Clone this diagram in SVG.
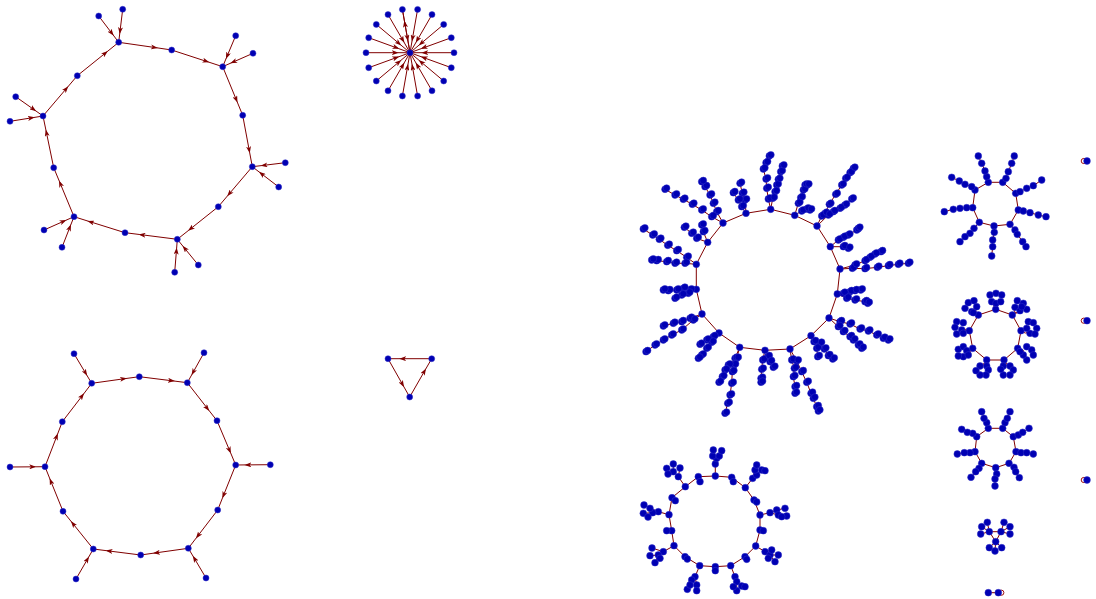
<svg xmlns="http://www.w3.org/2000/svg" xmlns:xlink="http://www.w3.org/1999/xlink" width="1096" height="599" viewBox="0 0 1096 599">
<style>
.e{fill:none;stroke:#800000;stroke-width:1}
.d{marker-mid:url(#ah)}
.lp{fill:none;stroke:#a01010;stroke-width:1}
#nodes circle{fill:#0000b3;stroke:#3030c8;stroke-width:0.5}
</style>
<defs>
<marker id="ah" viewBox="0 0 7 5" refX="6" refY="2.5" markerWidth="7" markerHeight="5" markerUnits="userSpaceOnUse" orient="auto"><path d="M0,0 L7,2.5 L0,5 L1.8,2.5 Z" fill="#800000"/></marker>
</defs>
<rect width="1096" height="599" fill="#ffffff"/>
<g id="connectors">
<polyline class="e d" points="118.7,42.3 156.9,47.8 171.7,50"/>
<polyline class="e d" points="171.7,50 208.4,62 222.7,66.7"/>
<polyline class="e d" points="222.7,66.7 237.1,101.7 242.7,115.3"/>
<polyline class="e d" points="242.7,115.3 249.6,152.3 252.3,166.7"/>
<polyline class="e d" points="252.3,166.7 227.8,195.5 218.3,206.7"/>
<polyline class="e d" points="218.3,206.7 188.8,230.2 177.3,239.3"/>
<polyline class="e d" points="177.3,239.3 139.6,234.5 125,232.7"/>
<polyline class="e d" points="125,232.7 88.3,221.2 74,216.7"/>
<polyline class="e d" points="74,216.7 59.4,181.4 53.7,167.7"/>
<polyline class="e d" points="53.7,167.7 46,130.5 43,116"/>
<polyline class="e d" points="43,116 67.7,87 77.3,75.7"/>
<polyline class="e d" points="77.3,75.7 107.1,51.7 118.7,42.3"/>
<polyline class="e d" points="98.7,16 113.1,34.9 118.7,42.3"/>
<polyline class="e d" points="122.7,9.3 119.8,33.1 118.7,42.3"/>
<polyline class="e d" points="235.7,35.7 226.3,58 222.7,66.7"/>
<polyline class="e d" points="253,53.3 231.2,62.9 222.7,66.7"/>
<polyline class="e d" points="285.3,162.7 261.5,165.6 252.3,166.7"/>
<polyline class="e d" points="278.7,187 259.7,172.4 252.3,166.7"/>
<polyline class="e d" points="198.3,265 183.2,246.5 177.3,239.3"/>
<polyline class="e d" points="174.7,272.3 176.6,248.5 177.3,239.3"/>
<polyline class="e d" points="44,230 65.6,220.4 74,216.7"/>
<polyline class="e d" points="62,247.3 70.6,225.3 74,216.7"/>
<polyline class="e d" points="15.7,96.7 35.4,110.6 43,116"/>
<polyline class="e d" points="10,121.3 33.8,117.5 43,116"/>
<polyline class="e d" points="417.6,9.4 412.1,40.6 410,52.7"/>
<polyline class="e d" points="432,14.6 416.2,42 410,52.7"/>
<polyline class="e d" points="443.7,24.4 419.4,44.8 410,52.7"/>
<polyline class="e d" points="451.3,37.7 421.6,48.5 410,52.7"/>
<polyline class="e d" points="454,52.7 422.3,52.7 410,52.7"/>
<polyline class="e d" points="451.3,67.7 421.6,56.9 410,52.7"/>
<polyline class="e d" points="443.7,81 419.4,60.6 410,52.7"/>
<polyline class="e d" points="432,90.8 416.2,63.4 410,52.7"/>
<polyline class="e d" points="417.6,96 412.1,64.8 410,52.7"/>
<polyline class="e d" points="402.4,96 407.9,64.8 410,52.7"/>
<polyline class="e d" points="388,90.8 403.9,63.4 410,52.7"/>
<polyline class="e d" points="376.3,81 400.6,60.6 410,52.7"/>
<polyline class="e d" points="368.7,67.7 398.4,56.9 410,52.7"/>
<polyline class="e d" points="366,52.7 397.7,52.7 410,52.7"/>
<polyline class="e d" points="368.7,37.7 398.4,48.5 410,52.7"/>
<polyline class="e d" points="376.3,24.4 400.6,44.8 410,52.7"/>
<polyline class="e d" points="388,14.6 403.9,42 410,52.7"/>
<polyline class="e d" points="402.4,9.4 407.9,40.6 410,52.7"/>
<polyline class="e d" points="410,52.7 404.5,21.5 402.4,9.4"/>
<polyline class="e d" points="91.7,383.3 126,378.5 139.3,376.7"/>
<polyline class="e d" points="139.3,376.7 173.9,381 187.3,382.7"/>
<polyline class="e d" points="187.3,382.7 208.7,410.1 217,420.7"/>
<polyline class="e d" points="217,420.7 230.5,452.6 235.7,465"/>
<polyline class="e d" points="235.7,465 222.7,497.4 217.7,510"/>
<polyline class="e d" points="217.7,510 196.5,537.6 188.3,548.3"/>
<polyline class="e d" points="188.3,548.3 154,553.1 140.7,555"/>
<polyline class="e d" points="140.7,555 106.6,550.7 93.3,549"/>
<polyline class="e d" points="93.3,549 71.5,521.9 63,511.3"/>
<polyline class="e d" points="63,511.3 50,479.2 45,466.7"/>
<polyline class="e d" points="45,466.7 57.5,434.3 62.3,421.7"/>
<polyline class="e d" points="62.3,421.7 83.5,394.1 91.7,383.3"/>
<polyline class="e d" points="74,353.7 86.7,375 91.7,383.3"/>
<polyline class="e d" points="204,352.7 192,374.3 187.3,382.7"/>
<polyline class="e d" points="270.3,464.7 245.4,464.9 235.7,465"/>
<polyline class="e d" points="206,578 193.3,556.6 188.3,548.3"/>
<polyline class="e d" points="76,579 88.5,557.4 93.3,549"/>
<polyline class="e d" points="10,467 35.2,466.8 45,466.7"/>
<polyline class="e d" points="431.7,358.7 400.2,358.7 388,358.7"/>
<polyline class="e d" points="388,358.7 403.6,386.3 409.7,397"/>
<polyline class="e d" points="409.7,397 425.5,369.4 431.7,358.7"/>
<polygon class="e" points="770.7,209.3 794.7,215.3 817,226 830.3,246.7 840,269 837.3,294 829,318 811,335.7 790,349 765,350.3 739.7,347.3 719,333 702,314 696.3,289.3 696.3,264.3 707.7,242.3 723,223 746,213.3"/>
<polyline class="e" points="770.7,209.3 768.3,199 766.7,188.3 766,179 763.3,169 766,162.7 769.3,156"/>
<polyline class="e" points="770.7,209.3 772.7,198.3 775,191.7 776.7,185 778.3,179.3 780.7,171.7 782.3,166"/>
<polyline class="e" points="794.7,215.3 798.3,203.3 800.7,197.7 803.3,190 805,185 807.3,185"/>
<polyline class="e" points="794.7,215.3 801.7,211 806.7,209 810,210"/>
<polyline class="e" points="817,226 821.7,216 825,213.3 829.3,204.3 835.7,194.3 841.7,185 845.7,178.3 850,172.7 853.3,168.3"/>
<polyline class="e" points="817,226 828.3,215 833.3,211.7 840,208.3 845,205 851.7,199"/>
<polyline class="e" points="830.3,246.7 838.3,240 843.3,237.3 848.3,235 856.7,230 858.3,228.3"/>
<polyline class="e" points="830.3,246.7 843.3,246.7 848.3,248.3"/>
<polyline class="e" points="840,269 852.3,268.3 865,268.7 877.3,267.3 888.3,265.7 898.3,264.3 908.3,263.3"/>
<polyline class="e" points="840,269 855,265 865,260.7 870,257.3 875,254 881,251.7"/>
<polyline class="e" points="837.3,294 843.3,293.3 850,291.7 855,290.7 860.7,290"/>
<polyline class="e" points="837.3,294 846.7,298.3 855,300 865,301.7 867.7,303.3"/>
<polyline class="e" points="829,318 840,321.7 850,324 860,329 868.3,331 876.7,335 883.3,338.3 888.3,340"/>
<polyline class="e" points="829,318 838.3,326.7 843.3,331.7 850,336.7 853.3,340 858.3,345 861.7,348.3"/>
<polyline class="e" points="811,335.7 814,341.7 816.7,348.3 817.7,356.7"/>
<polyline class="e" points="811,335.7 820,343.3 824.3,349 828.3,355.7 832.7,359"/>
<polyline class="e" points="790,349 791.7,360 794.3,368.3 793.3,376.7 795,386.7 795,393.3"/>
<polyline class="e" points="790,349 796.7,361 801.7,371.7 806.7,382.3 811,393.3 813.3,398.3 816.7,406.7 818.3,411"/>
<polyline class="e" points="765,350.3 762.7,360 761.7,369.3 761,378.3 761,382.3"/>
<polyline class="e" points="765,350.3 767.7,356.7 770,361.7 773.3,367.3"/>
<polyline class="e" points="739.7,347.3 735,358.3 734,365 732.3,371.7 731.7,383.3 730,395 727.7,403.3 725,413.3"/>
<polyline class="e" points="739.7,347.3 736.7,358.3 728.3,365 725,370 722.3,376.7 719,382.3"/>
<polyline class="e" points="719,333 713.3,336.7 706.7,340 700,344.3"/>
<polyline class="e" points="719,333 711.7,342.3 706.7,348.3 701.7,355 698.3,358.3"/>
<polyline class="e" points="702,314 690,318.3 681.7,321.7 673.3,323.3 663.3,326"/>
<polyline class="e" points="702,314 693.3,320 681.7,330 671.7,335 663.3,340 655,345 646,351.7"/>
<polyline class="e" points="696.3,289.3 690,290 683.3,288.3 676.7,290 668.3,290.7 663.3,290"/>
<polyline class="e" points="696.3,289.3 688.3,293.3 681.7,295 675,298.3"/>
<polyline class="e" points="696.3,264.3 685,263.3 675,263.3 666.7,261.7 656.7,260.7 651.7,260"/>
<polyline class="e" points="696.3,264.3 686.7,257.3 676.7,250.7 667.7,245.3 659.3,239.3 652.7,235 643.3,229"/>
<polyline class="e" points="707.7,242.3 703.3,231.7 701.7,225"/>
<polyline class="e" points="707.7,242.3 696.7,238.3 691.7,233.3 684.3,227.3"/>
<polyline class="e" points="723,223 716.7,211.7 713.3,203.3 710,195 705,186.7 701.7,181.7"/>
<polyline class="e" points="723,223 711.7,216.7 701.7,210 692.3,204.3 683.3,199.3 675,195 665,189.3"/>
<polyline class="e" points="746,213.3 741.7,206.7 738.3,200 733.3,192.7"/>
<polyline class="e" points="746,213.3 745,200 742.3,193.3 740,183.3"/>
<polygon class="e" points="715.3,476 731.7,477.3 745.3,487.7 754,500 760,515 760,530 755.7,546 745,556.7 730.7,565.7 715.3,566.7 699.7,565.7 685,556.7 674,545.7 671.7,530.7 669,514.7 672,497.7 685.3,486.7 698.3,476.7"/>
<path class="e" d="M731.7,477.3L733.3,481.7M754,500L756.7,502M760,530L763.3,530.7M745,556.7L746.7,559.3M715.3,566.7L715.3,570.7M685,556.7L687.3,559M671.7,530.7L666.7,530.7M672,497.7L675.3,500.7M698.3,476.7L700,481.7"/>
<path class="e" d="M715.3,476L715.3,464L716.7,458.3M715.3,464L712.7,456M715.3,464L719.3,456M712.7,456L713.3,450M719.3,456L721.7,450.7"/>
<path class="e" d="M745.3,487.7L752.7,478.3L756.7,475M752.7,478.3L755,470M756.7,475L761.7,470M755,470L756.7,465M761.7,470L765,470.7"/>
<path class="e" d="M760,515L770,512.7L776.7,510M770,512.7L778.3,515M776.7,510L785,508.3M778.3,515L786.7,516M778.3,515L781.7,516.7"/>
<path class="e" d="M755.7,546L765,551.7L770,555M765,551.7L771.7,550M770,555L778.3,555M770,555L775,561.7M770,555L768.3,558.3"/>
<path class="e" d="M730.7,565.7L735,576.7L736.7,581.7M736.7,581.7L741.7,586M736.7,581.7L736.7,590.7M741.7,586L745,586.7M736.7,581.7L733.3,586.7"/>
<path class="e" d="M699.7,565.7L695,576.7L691.7,580M695,576.7L696.7,585M691.7,580L687.3,589.3M696.7,585L696.7,590.7M691.7,580L690,585"/>
<path class="e" d="M674,545.7L663.3,551.7L658.3,555M658.3,555L650,555.7M658.3,555L660,558.3M658.3,555L655,562.7M663.3,551.7L652,548"/>
<path class="e" d="M669,514.7L658.3,511.7L652.7,512.7M652.7,512.7L643.3,513.3M658.3,511.7L650,508.3M650,508.3L644,505M652.7,512.7L648,517"/>
<path class="e" d="M685.3,486.7L678.3,476.7L673.3,471.7M673.3,471.7L666.7,468.3M673.3,471.7L673.3,464M673.3,471.7L668,474M678.3,476.7L680,468"/>
<polygon class="e" points="988.3,182.3 1002.7,182.3 1015.7,193.3 1018.3,210 1010,224.3 994,226 979.3,222.3 972.7,207.7 975,190"/>
<polyline class="e" points="988.3,182.3 986.7,176.7 985,171 981.7,163.3 978.3,156"/>
<polyline class="e" points="1002.7,182.3 1006,178.3 1008.3,171.7 1011.7,163.3 1014.3,156"/>
<polyline class="e" points="1015.7,193.3 1020,191.7 1026.7,188.3 1033.3,185.7 1041.7,180"/>
<polyline class="e" points="1018.3,210 1023.3,211 1030,212.7 1038.3,215 1046,216.7"/>
<polyline class="e" points="1010,224.3 1015,230 1017.3,234.3 1022.7,241.7 1026,246.7"/>
<polyline class="e" points="994,226 994.3,232.3 992.7,240 992.7,246.7 991.7,256"/>
<polyline class="e" points="979.3,222.3 974,228.3 970,233.3 965,236.7 960,241.7"/>
<polyline class="e" points="972.7,207.7 966.7,207.7 960,208.3 953.3,209.3 944.3,211.7"/>
<polyline class="e" points="975,190 971.7,186.7 965,184.3 959.3,181 951.7,177.3"/>
<polygon class="e" points="995.7,309.3 1012.3,315 1021,330.7 1017.7,348.3 1004,360 986.7,360 972.7,348.3 969.3,330.7 978.3,315"/>
<path class="e" d="M995.7,309.3L996,303.3M1012.3,315L1020,310.7M1021,330.7L1026.7,328.3M1017.7,348.3L1023.3,355M1004,360L1003.3,366M986.7,360L986.7,366M972.7,348.3L966.7,350.7M969.3,330.7L961.7,330M978.3,315L971.7,311.7"/>
<circle class="lp" cx="995.7" cy="305.5" r="2"/>
<circle class="lp" cx="1016.5" cy="311" r="2"/>
<circle class="lp" cx="1025.5" cy="331" r="2"/>
<circle class="lp" cx="1021.5" cy="351.5" r="2"/>
<circle class="lp" cx="1005" cy="364.5" r="2"/>
<circle class="lp" cx="985.5" cy="364.5" r="2"/>
<circle class="lp" cx="968.5" cy="351.5" r="2"/>
<circle class="lp" cx="964.5" cy="331" r="2"/>
<circle class="lp" cx="974" cy="311" r="2"/>
<polygon class="e" points="988.3,428.3 1002.7,428.3 1013.3,436.7 1016,451.7 1009,463.3 995.7,467.7 981.7,463.3 975,451.7 976.7,436.7"/>
<polyline class="e" points="988.3,428.3 986.7,422.7 984,418.3 981.7,411.7"/>
<polyline class="e" points="1002.7,428.3 1005,422.7 1007.3,418.3 1010,411.7"/>
<polyline class="e" points="1013.3,436.7 1018.3,435 1022.7,432.3 1029,428.3"/>
<polyline class="e" points="1016,451.7 1021,452.7 1026.7,452.7 1033.3,454"/>
<polyline class="e" points="1009,463.3 1014,467.3 1015.7,471.7 1019.3,477.7"/>
<polyline class="e" points="995.7,467.7 996.7,474 995,479 995,486"/>
<polyline class="e" points="981.7,463.3 979,468.3 975.7,471.7 971,477.3"/>
<polyline class="e" points="975,451.7 970,452.7 964.3,452.7 957.3,454"/>
<polyline class="e" points="976.7,436.7 972.7,433.3 967.3,432.3 961.7,429.3"/>
<polygon class="e" points="989.3,531.7 1001,531.7 995.7,541.7"/>
<path class="e" d="M989.3,531.7L981.7,526.7M989.3,531.7L987.3,522.3M989.3,531.7L980.7,534M1001,531.7L1004,522.3M1001,531.7L1010,526.7M1001,531.7L1010,534M995.7,541.7L989.3,547.7M995.7,541.7L995,551M995.7,541.7L1001.7,547.7"/>
<line class="e" x1="988.3" y1="592.7" x2="998.3" y2="592.7"/>
<circle class="lp" cx="1001.3" cy="592.7" r="2.6"/>
<circle class="lp" cx="1083.8" cy="161" r="2.6"/>
<circle class="lp" cx="1083.8" cy="320.7" r="2.6"/>
<circle class="lp" cx="1083.8" cy="480" r="2.6"/>
</g>
<g id="nodes">
<g id="g1a"><circle cx="118.7" cy="42.3" r="3"/></g>
<g id="g1ab"><circle cx="171.7" cy="50" r="3"/></g>
<g id="g1b"><circle cx="222.7" cy="66.7" r="3"/></g>
<g id="g1bc"><circle cx="242.7" cy="115.3" r="3"/></g>
<g id="g1c"><circle cx="252.3" cy="166.7" r="3"/></g>
<g id="g1cd"><circle cx="218.3" cy="206.7" r="3"/></g>
<g id="g1d"><circle cx="177.3" cy="239.3" r="3"/></g>
<g id="g1de"><circle cx="125" cy="232.7" r="3"/></g>
<g id="g1e"><circle cx="74" cy="216.7" r="3"/></g>
<g id="g1ef"><circle cx="53.7" cy="167.7" r="3"/></g>
<g id="g1f"><circle cx="43" cy="116" r="3"/></g>
<g id="g1fa"><circle cx="77.3" cy="75.7" r="3"/></g>
<g id="g1l1"><circle cx="98.7" cy="16" r="3"/></g>
<g id="g1l2"><circle cx="122.7" cy="9.3" r="3"/></g>
<g id="g1l3"><circle cx="235.7" cy="35.7" r="3"/></g>
<g id="g1l4"><circle cx="253" cy="53.3" r="3"/></g>
<g id="g1l5"><circle cx="285.3" cy="162.7" r="3"/></g>
<g id="g1l6"><circle cx="278.7" cy="187" r="3"/></g>
<g id="g1l7"><circle cx="198.3" cy="265" r="3"/></g>
<g id="g1l8"><circle cx="174.7" cy="272.3" r="3"/></g>
<g id="g1l9"><circle cx="44" cy="230" r="3"/></g>
<g id="g1l10"><circle cx="62" cy="247.3" r="3"/></g>
<g id="g1l11"><circle cx="15.7" cy="96.7" r="3"/></g>
<g id="g1l12"><circle cx="10" cy="121.3" r="3"/></g>
<g id="s0"><circle cx="410" cy="52.7" r="3"/></g>
<g id="s1"><circle cx="417.6" cy="9.4" r="3"/></g>
<g id="s2"><circle cx="432" cy="14.6" r="3"/></g>
<g id="s3"><circle cx="443.7" cy="24.4" r="3"/></g>
<g id="s4"><circle cx="451.3" cy="37.7" r="3"/></g>
<g id="s5"><circle cx="454" cy="52.7" r="3"/></g>
<g id="s6"><circle cx="451.3" cy="67.7" r="3"/></g>
<g id="s7"><circle cx="443.7" cy="81" r="3"/></g>
<g id="s8"><circle cx="432" cy="90.8" r="3"/></g>
<g id="s9"><circle cx="417.6" cy="96" r="3"/></g>
<g id="s10"><circle cx="402.4" cy="96" r="3"/></g>
<g id="s11"><circle cx="388" cy="90.8" r="3"/></g>
<g id="s12"><circle cx="376.3" cy="81" r="3"/></g>
<g id="s13"><circle cx="368.7" cy="67.7" r="3"/></g>
<g id="s14"><circle cx="366" cy="52.7" r="3"/></g>
<g id="s15"><circle cx="368.7" cy="37.7" r="3"/></g>
<g id="s16"><circle cx="376.3" cy="24.4" r="3"/></g>
<g id="s17"><circle cx="388" cy="14.6" r="3"/></g>
<g id="s18"><circle cx="402.4" cy="9.4" r="3"/></g>
<g id="g3h1"><circle cx="91.7" cy="383.3" r="3"/></g>
<g id="g3m12"><circle cx="139.3" cy="376.7" r="3"/></g>
<g id="g3h2"><circle cx="187.3" cy="382.7" r="3"/></g>
<g id="g3m23"><circle cx="217" cy="420.7" r="3"/></g>
<g id="g3h3"><circle cx="235.7" cy="465" r="3"/></g>
<g id="g3m34"><circle cx="217.7" cy="510" r="3"/></g>
<g id="g3h4"><circle cx="188.3" cy="548.3" r="3"/></g>
<g id="g3m45"><circle cx="140.7" cy="555" r="3"/></g>
<g id="g3h5"><circle cx="93.3" cy="549" r="3"/></g>
<g id="g3m56"><circle cx="63" cy="511.3" r="3"/></g>
<g id="g3h6"><circle cx="45" cy="466.7" r="3"/></g>
<g id="g3m61"><circle cx="62.3" cy="421.7" r="3"/></g>
<g id="g3l1"><circle cx="74" cy="353.7" r="3"/></g>
<g id="g3l2"><circle cx="204" cy="352.7" r="3"/></g>
<g id="g3l3"><circle cx="270.3" cy="464.7" r="3"/></g>
<g id="g3l4"><circle cx="206" cy="578" r="3"/></g>
<g id="g3l5"><circle cx="76" cy="579" r="3"/></g>
<g id="g3l6"><circle cx="10" cy="467" r="3"/></g>
<g id="t1"><circle cx="388" cy="358.7" r="3"/></g>
<g id="t2"><circle cx="431.7" cy="358.7" r="3"/></g>
<g id="t3"><circle cx="409.7" cy="397" r="3"/></g>
<g id="br-ring">
<circle cx="770.7" cy="209.3" r="3.4"/><circle cx="794.7" cy="215.3" r="3.4"/><circle cx="817" cy="226" r="3.4"/><circle cx="830.3" cy="246.7" r="3.4"/><circle cx="840" cy="269" r="3.4"/><circle cx="837.3" cy="294" r="3.4"/><circle cx="829" cy="318" r="3.4"/><circle cx="811" cy="335.7" r="3.4"/><circle cx="790" cy="349" r="3.4"/><circle cx="765" cy="350.3" r="3.4"/><circle cx="739.7" cy="347.3" r="3.4"/><circle cx="719" cy="333" r="3.4"/><circle cx="702" cy="314" r="3.4"/><circle cx="696.3" cy="289.3" r="3.4"/><circle cx="696.3" cy="264.3" r="3.4"/><circle cx="707.7" cy="242.3" r="3.4"/><circle cx="723" cy="223" r="3.4"/><circle cx="746" cy="213.3" r="3.4"/>
</g>
<g id="br-branches">
<g id="br-b1"><circle cx="768.3" cy="199" r="3.4"/><circle cx="766.7" cy="188.3" r="3.4"/><circle cx="766" cy="179" r="3.4"/><circle cx="763.3" cy="169" r="3.4"/><circle cx="766" cy="162.7" r="3.4"/><circle cx="769.3" cy="156" r="3.4"/><circle cx="772.7" cy="198.3" r="3.4"/><circle cx="775" cy="191.7" r="3.4"/><circle cx="776.7" cy="185" r="3.4"/><circle cx="778.3" cy="179.3" r="3.4"/><circle cx="780.7" cy="171.7" r="3.4"/><circle cx="782.3" cy="166" r="3.4"/></g>
<g id="br-b2"><circle cx="798.3" cy="203.3" r="3.4"/><circle cx="800.7" cy="197.7" r="3.4"/><circle cx="803.3" cy="190" r="3.4"/><circle cx="805" cy="185" r="3.4"/><circle cx="807.3" cy="185" r="3.4"/><circle cx="801.7" cy="211" r="3.4"/><circle cx="806.7" cy="209" r="3.4"/><circle cx="810" cy="210" r="3.4"/></g>
<g id="br-b3"><circle cx="821.7" cy="216" r="3.4"/><circle cx="825" cy="213.3" r="3.4"/><circle cx="829.3" cy="204.3" r="3.4"/><circle cx="835.7" cy="194.3" r="3.4"/><circle cx="841.7" cy="185" r="3.4"/><circle cx="845.7" cy="178.3" r="3.4"/><circle cx="850" cy="172.7" r="3.4"/><circle cx="853.3" cy="168.3" r="3.4"/><circle cx="828.3" cy="215" r="3.4"/><circle cx="833.3" cy="211.7" r="3.4"/><circle cx="840" cy="208.3" r="3.4"/><circle cx="845" cy="205" r="3.4"/><circle cx="851.7" cy="199" r="3.4"/></g>
<g id="br-b4"><circle cx="838.3" cy="240" r="3.4"/><circle cx="843.3" cy="237.3" r="3.4"/><circle cx="848.3" cy="235" r="3.4"/><circle cx="856.7" cy="230" r="3.4"/><circle cx="858.3" cy="228.3" r="3.4"/><circle cx="843.3" cy="246.7" r="3.4"/><circle cx="848.3" cy="248.3" r="3.4"/></g>
<g id="br-b5"><circle cx="852.3" cy="268.3" r="3.4"/><circle cx="865" cy="268.7" r="3.4"/><circle cx="877.3" cy="267.3" r="3.4"/><circle cx="888.3" cy="265.7" r="3.4"/><circle cx="898.3" cy="264.3" r="3.4"/><circle cx="908.3" cy="263.3" r="3.4"/><circle cx="855" cy="265" r="3.4"/><circle cx="865" cy="260.7" r="3.4"/><circle cx="870" cy="257.3" r="3.4"/><circle cx="875" cy="254" r="3.4"/><circle cx="881" cy="251.7" r="3.4"/></g>
<g id="br-b6"><circle cx="843.3" cy="293.3" r="3.4"/><circle cx="850" cy="291.7" r="3.4"/><circle cx="855" cy="290.7" r="3.4"/><circle cx="860.7" cy="290" r="3.4"/><circle cx="846.7" cy="298.3" r="3.4"/><circle cx="855" cy="300" r="3.4"/><circle cx="865" cy="301.7" r="3.4"/><circle cx="867.7" cy="303.3" r="3.4"/></g>
<g id="br-b7"><circle cx="840" cy="321.7" r="3.4"/><circle cx="850" cy="324" r="3.4"/><circle cx="860" cy="329" r="3.4"/><circle cx="868.3" cy="331" r="3.4"/><circle cx="876.7" cy="335" r="3.4"/><circle cx="883.3" cy="338.3" r="3.4"/><circle cx="888.3" cy="340" r="3.4"/><circle cx="838.3" cy="326.7" r="3.4"/><circle cx="843.3" cy="331.7" r="3.4"/><circle cx="850" cy="336.7" r="3.4"/><circle cx="853.3" cy="340" r="3.4"/><circle cx="858.3" cy="345" r="3.4"/><circle cx="861.7" cy="348.3" r="3.4"/></g>
<g id="br-b8"><circle cx="814" cy="341.7" r="3.4"/><circle cx="816.7" cy="348.3" r="3.4"/><circle cx="817.7" cy="356.7" r="3.4"/><circle cx="820" cy="343.3" r="3.4"/><circle cx="824.3" cy="349" r="3.4"/><circle cx="828.3" cy="355.7" r="3.4"/><circle cx="832.7" cy="359" r="3.4"/></g>
<g id="br-b9"><circle cx="791.7" cy="360" r="3.4"/><circle cx="794.3" cy="368.3" r="3.4"/><circle cx="793.3" cy="376.7" r="3.4"/><circle cx="795" cy="386.7" r="3.4"/><circle cx="795" cy="393.3" r="3.4"/><circle cx="796.7" cy="361" r="3.4"/><circle cx="801.7" cy="371.7" r="3.4"/><circle cx="806.7" cy="382.3" r="3.4"/><circle cx="811" cy="393.3" r="3.4"/><circle cx="813.3" cy="398.3" r="3.4"/><circle cx="816.7" cy="406.7" r="3.4"/><circle cx="818.3" cy="411" r="3.4"/></g>
<g id="br-b10"><circle cx="762.7" cy="360" r="3.4"/><circle cx="761.7" cy="369.3" r="3.4"/><circle cx="761" cy="378.3" r="3.4"/><circle cx="761" cy="382.3" r="3.4"/><circle cx="767.7" cy="356.7" r="3.4"/><circle cx="770" cy="361.7" r="3.4"/><circle cx="773.3" cy="367.3" r="3.4"/></g>
<g id="br-b11"><circle cx="735" cy="358.3" r="3.4"/><circle cx="734" cy="365" r="3.4"/><circle cx="732.3" cy="371.7" r="3.4"/><circle cx="731.7" cy="383.3" r="3.4"/><circle cx="730" cy="395" r="3.4"/><circle cx="727.7" cy="403.3" r="3.4"/><circle cx="725" cy="413.3" r="3.4"/><circle cx="736.7" cy="358.3" r="3.4"/><circle cx="728.3" cy="365" r="3.4"/><circle cx="725" cy="370" r="3.4"/><circle cx="722.3" cy="376.7" r="3.4"/><circle cx="719" cy="382.3" r="3.4"/></g>
<g id="br-b12"><circle cx="713.3" cy="336.7" r="3.4"/><circle cx="706.7" cy="340" r="3.4"/><circle cx="700" cy="344.3" r="3.4"/><circle cx="711.7" cy="342.3" r="3.4"/><circle cx="706.7" cy="348.3" r="3.4"/><circle cx="701.7" cy="355" r="3.4"/><circle cx="698.3" cy="358.3" r="3.4"/></g>
<g id="br-b13"><circle cx="690" cy="318.3" r="3.4"/><circle cx="681.7" cy="321.7" r="3.4"/><circle cx="673.3" cy="323.3" r="3.4"/><circle cx="663.3" cy="326" r="3.4"/><circle cx="693.3" cy="320" r="3.4"/><circle cx="681.7" cy="330" r="3.4"/><circle cx="671.7" cy="335" r="3.4"/><circle cx="663.3" cy="340" r="3.4"/><circle cx="655" cy="345" r="3.4"/><circle cx="646" cy="351.7" r="3.4"/></g>
<g id="br-b14"><circle cx="690" cy="290" r="3.4"/><circle cx="683.3" cy="288.3" r="3.4"/><circle cx="676.7" cy="290" r="3.4"/><circle cx="668.3" cy="290.7" r="3.4"/><circle cx="663.3" cy="290" r="3.4"/><circle cx="688.3" cy="293.3" r="3.4"/><circle cx="681.7" cy="295" r="3.4"/><circle cx="675" cy="298.3" r="3.4"/></g>
<g id="br-b15"><circle cx="685" cy="263.3" r="3.4"/><circle cx="675" cy="263.3" r="3.4"/><circle cx="666.7" cy="261.7" r="3.4"/><circle cx="656.7" cy="260.7" r="3.4"/><circle cx="651.7" cy="260" r="3.4"/><circle cx="686.7" cy="257.3" r="3.4"/><circle cx="676.7" cy="250.7" r="3.4"/><circle cx="667.7" cy="245.3" r="3.4"/><circle cx="659.3" cy="239.3" r="3.4"/><circle cx="652.7" cy="235" r="3.4"/><circle cx="643.3" cy="229" r="3.4"/></g>
<g id="br-b16"><circle cx="703.3" cy="231.7" r="3.4"/><circle cx="701.7" cy="225" r="3.4"/><circle cx="696.7" cy="238.3" r="3.4"/><circle cx="691.7" cy="233.3" r="3.4"/><circle cx="684.3" cy="227.3" r="3.4"/></g>
<g id="br-b17"><circle cx="716.7" cy="211.7" r="3.4"/><circle cx="713.3" cy="203.3" r="3.4"/><circle cx="710" cy="195" r="3.4"/><circle cx="705" cy="186.7" r="3.4"/><circle cx="701.7" cy="181.7" r="3.4"/><circle cx="711.7" cy="216.7" r="3.4"/><circle cx="701.7" cy="210" r="3.4"/><circle cx="692.3" cy="204.3" r="3.4"/><circle cx="683.3" cy="199.3" r="3.4"/><circle cx="675" cy="195" r="3.4"/><circle cx="665" cy="189.3" r="3.4"/></g>
<g id="br-b18"><circle cx="741.7" cy="206.7" r="3.4"/><circle cx="738.3" cy="200" r="3.4"/><circle cx="733.3" cy="192.7" r="3.4"/><circle cx="745" cy="200" r="3.4"/><circle cx="742.3" cy="193.3" r="3.4"/><circle cx="740" cy="183.3" r="3.4"/></g>
</g>
<use id="br-doubles" href="#br-branches" xlink:href="#br-branches" transform="translate(1.6,-1.2)"/>
<g id="bt-ring"><circle cx="715.3" cy="476" r="3.4"/><circle cx="731.7" cy="477.3" r="3.4"/><circle cx="745.3" cy="487.7" r="3.4"/><circle cx="754" cy="500" r="3.4"/><circle cx="760" cy="515" r="3.4"/><circle cx="760" cy="530" r="3.4"/><circle cx="755.7" cy="546" r="3.4"/><circle cx="745" cy="556.7" r="3.4"/><circle cx="730.7" cy="565.7" r="3.4"/><circle cx="715.3" cy="566.7" r="3.4"/><circle cx="699.7" cy="565.7" r="3.4"/><circle cx="685" cy="556.7" r="3.4"/><circle cx="674" cy="545.7" r="3.4"/><circle cx="671.7" cy="530.7" r="3.4"/><circle cx="669" cy="514.7" r="3.4"/><circle cx="672" cy="497.7" r="3.4"/><circle cx="685.3" cy="486.7" r="3.4"/><circle cx="698.3" cy="476.7" r="3.4"/>
<circle cx="733.3" cy="481.7" r="3.4"/><circle cx="756.7" cy="502" r="3.4"/><circle cx="763.3" cy="530.7" r="3.4"/><circle cx="746.7" cy="559.3" r="3.4"/><circle cx="715.3" cy="570.7" r="3.4"/><circle cx="687.3" cy="559" r="3.4"/><circle cx="666.7" cy="530.7" r="3.4"/><circle cx="675.3" cy="500.7" r="3.4"/><circle cx="700" cy="481.7" r="3.4"/></g>
<g id="bt-c1"><circle cx="715.3" cy="464" r="3.4"/><circle cx="716.7" cy="458.3" r="3.4"/><circle cx="712.7" cy="456" r="3.4"/><circle cx="719.3" cy="456" r="3.4"/><circle cx="713.3" cy="450" r="3.4"/><circle cx="721.7" cy="450.7" r="3.4"/></g>
<g id="bt-c2"><circle cx="752.7" cy="478.3" r="3.4"/><circle cx="756.7" cy="475" r="3.4"/><circle cx="755" cy="470" r="3.4"/><circle cx="761.7" cy="470" r="3.4"/><circle cx="756.7" cy="465" r="3.4"/><circle cx="765" cy="470.7" r="3.4"/></g>
<g id="bt-c3"><circle cx="770" cy="512.7" r="3.4"/><circle cx="776.7" cy="510" r="3.4"/><circle cx="778.3" cy="515" r="3.4"/><circle cx="785" cy="508.3" r="3.4"/><circle cx="786.7" cy="516" r="3.4"/><circle cx="781.7" cy="516.7" r="3.4"/></g>
<g id="bt-c4"><circle cx="765" cy="551.7" r="3.4"/><circle cx="770" cy="555" r="3.4"/><circle cx="771.7" cy="550" r="3.4"/><circle cx="778.3" cy="555" r="3.4"/><circle cx="775" cy="561.7" r="3.4"/><circle cx="768.3" cy="558.3" r="3.4"/></g>
<g id="bt-c5"><circle cx="735" cy="576.7" r="3.4"/><circle cx="736.7" cy="581.7" r="3.4"/><circle cx="741.7" cy="586" r="3.4"/><circle cx="736.7" cy="590.7" r="3.4"/><circle cx="745" cy="586.7" r="3.4"/><circle cx="733.3" cy="586.7" r="3.4"/></g>
<g id="bt-c6"><circle cx="695" cy="576.7" r="3.4"/><circle cx="691.7" cy="580" r="3.4"/><circle cx="696.7" cy="585" r="3.4"/><circle cx="687.3" cy="589.3" r="3.4"/><circle cx="696.7" cy="590.7" r="3.4"/><circle cx="690" cy="585" r="3.4"/></g>
<g id="bt-c7"><circle cx="663.3" cy="551.7" r="3.4"/><circle cx="658.3" cy="555" r="3.4"/><circle cx="650" cy="555.7" r="3.4"/><circle cx="660" cy="558.3" r="3.4"/><circle cx="655" cy="562.7" r="3.4"/><circle cx="652" cy="548" r="3.4"/></g>
<g id="bt-c8"><circle cx="658.3" cy="511.7" r="3.4"/><circle cx="652.7" cy="512.7" r="3.4"/><circle cx="643.3" cy="513.3" r="3.4"/><circle cx="650" cy="508.3" r="3.4"/><circle cx="644" cy="505" r="3.4"/><circle cx="648" cy="517" r="3.4"/></g>
<g id="bt-c9"><circle cx="678.3" cy="476.7" r="3.4"/><circle cx="673.3" cy="471.7" r="3.4"/><circle cx="666.7" cy="468.3" r="3.4"/><circle cx="673.3" cy="464" r="3.4"/><circle cx="668" cy="474" r="3.4"/><circle cx="680" cy="468" r="3.4"/></g>
<g id="tr-ring"><circle cx="988.3" cy="182.3" r="3.4"/><circle cx="1002.7" cy="182.3" r="3.4"/><circle cx="1015.7" cy="193.3" r="3.4"/><circle cx="1018.3" cy="210" r="3.4"/><circle cx="1010" cy="224.3" r="3.4"/><circle cx="994" cy="226" r="3.4"/><circle cx="979.3" cy="222.3" r="3.4"/><circle cx="972.7" cy="207.7" r="3.4"/><circle cx="975" cy="190" r="3.4"/></g>
<g id="tr-chains">
<circle cx="986.7" cy="176.7" r="3.4"/><circle cx="985" cy="171" r="3.4"/><circle cx="981.7" cy="163.3" r="3.4"/><circle cx="978.3" cy="156" r="3.4"/>
<circle cx="1006" cy="178.3" r="3.4"/><circle cx="1008.3" cy="171.7" r="3.4"/><circle cx="1011.7" cy="163.3" r="3.4"/><circle cx="1014.3" cy="156" r="3.4"/>
<circle cx="1020" cy="191.7" r="3.4"/><circle cx="1026.7" cy="188.3" r="3.4"/><circle cx="1033.3" cy="185.7" r="3.4"/><circle cx="1041.7" cy="180" r="3.4"/>
<circle cx="1023.3" cy="211" r="3.4"/><circle cx="1030" cy="212.7" r="3.4"/><circle cx="1038.3" cy="215" r="3.4"/><circle cx="1046" cy="216.7" r="3.4"/>
<circle cx="1015" cy="230" r="3.4"/><circle cx="1017.3" cy="234.3" r="3.4"/><circle cx="1022.7" cy="241.7" r="3.4"/><circle cx="1026" cy="246.7" r="3.4"/>
<circle cx="994.3" cy="232.3" r="3.4"/><circle cx="992.7" cy="240" r="3.4"/><circle cx="992.7" cy="246.7" r="3.4"/><circle cx="991.7" cy="256" r="3.4"/>
<circle cx="974" cy="228.3" r="3.4"/><circle cx="970" cy="233.3" r="3.4"/><circle cx="965" cy="236.7" r="3.4"/><circle cx="960" cy="241.7" r="3.4"/>
<circle cx="966.7" cy="207.7" r="3.4"/><circle cx="960" cy="208.3" r="3.4"/><circle cx="953.3" cy="209.3" r="3.4"/><circle cx="944.3" cy="211.7" r="3.4"/>
<circle cx="971.7" cy="186.7" r="3.4"/><circle cx="965" cy="184.3" r="3.4"/><circle cx="959.3" cy="181" r="3.4"/><circle cx="951.7" cy="177.3" r="3.4"/>
</g>
<g id="fl-ring"><circle cx="995.7" cy="309.3" r="3.4"/><circle cx="1012.3" cy="315" r="3.4"/><circle cx="1021" cy="330.7" r="3.4"/><circle cx="1017.7" cy="348.3" r="3.4"/><circle cx="1004" cy="360" r="3.4"/><circle cx="986.7" cy="360" r="3.4"/><circle cx="972.7" cy="348.3" r="3.4"/><circle cx="969.3" cy="330.7" r="3.4"/><circle cx="978.3" cy="315" r="3.4"/></g>
<g id="fl-petals">
<circle cx="990" cy="295" r="3.4"/><circle cx="996" cy="293.3" r="3.4"/><circle cx="1001.7" cy="295" r="3.4"/><circle cx="991.7" cy="301.7" r="3.4"/><circle cx="996" cy="303.3" r="3.4"/><circle cx="1000.7" cy="301.7" r="3.4"/>
<circle cx="1017.3" cy="300.7" r="3.4"/><circle cx="1023.3" cy="303.3" r="3.4"/><circle cx="1026.7" cy="309.3" r="3.4"/><circle cx="1015" cy="307.3" r="3.4"/><circle cx="1020" cy="310.7" r="3.4"/><circle cx="1021.7" cy="306.7" r="3.4"/>
<circle cx="1028.3" cy="321.7" r="3.4"/><circle cx="1033.3" cy="322.7" r="3.4"/><circle cx="1036.7" cy="328.3" r="3.4"/><circle cx="1030" cy="333.3" r="3.4"/><circle cx="1035" cy="334" r="3.4"/><circle cx="1026.7" cy="328.3" r="3.4"/>
<circle cx="1026.7" cy="346.7" r="3.4"/><circle cx="1031.7" cy="350" r="3.4"/><circle cx="1033.3" cy="355" r="3.4"/><circle cx="1026.7" cy="360" r="3.4"/><circle cx="1023.3" cy="355" r="3.4"/><circle cx="1020" cy="351.7" r="3.4"/>
<circle cx="1003.3" cy="366" r="3.4"/><circle cx="1010" cy="366" r="3.4"/><circle cx="1013.3" cy="370" r="3.4"/><circle cx="1010" cy="375" r="3.4"/><circle cx="1003.3" cy="375" r="3.4"/><circle cx="1000.7" cy="369.3" r="3.4"/>
<circle cx="980" cy="366" r="3.4"/><circle cx="986.7" cy="366" r="3.4"/><circle cx="988.3" cy="370" r="3.4"/><circle cx="986" cy="375" r="3.4"/><circle cx="980" cy="375" r="3.4"/><circle cx="976" cy="370.7" r="3.4"/>
<circle cx="958.3" cy="349.3" r="3.4"/><circle cx="963.3" cy="346.7" r="3.4"/><circle cx="966.7" cy="350.7" r="3.4"/><circle cx="963.3" cy="356.7" r="3.4"/><circle cx="958.3" cy="356" r="3.4"/><circle cx="968.3" cy="355" r="3.4"/>
<circle cx="956.7" cy="321.7" r="3.4"/><circle cx="963.3" cy="322.7" r="3.4"/><circle cx="955" cy="327.3" r="3.4"/><circle cx="961.7" cy="330" r="3.4"/><circle cx="956.7" cy="334" r="3.4"/><circle cx="963.3" cy="333.3" r="3.4"/>
<circle cx="968.3" cy="302.7" r="3.4"/><circle cx="974" cy="300.7" r="3.4"/><circle cx="965" cy="308.3" r="3.4"/><circle cx="971.7" cy="311.7" r="3.4"/><circle cx="976.7" cy="306.7" r="3.4"/><circle cx="973.3" cy="312.7" r="3.4"/>
</g>
<g id="sc-ring"><circle cx="988.3" cy="428.3" r="3.4"/><circle cx="1002.7" cy="428.3" r="3.4"/><circle cx="1013.3" cy="436.7" r="3.4"/><circle cx="1016" cy="451.7" r="3.4"/><circle cx="1009" cy="463.3" r="3.4"/><circle cx="995.7" cy="467.7" r="3.4"/><circle cx="981.7" cy="463.3" r="3.4"/><circle cx="975" cy="451.7" r="3.4"/><circle cx="976.7" cy="436.7" r="3.4"/></g>
<g id="sc-chains">
<circle cx="986.7" cy="422.7" r="3.4"/><circle cx="984" cy="418.3" r="3.4"/><circle cx="981.7" cy="411.7" r="3.4"/>
<circle cx="1005" cy="422.7" r="3.4"/><circle cx="1007.3" cy="418.3" r="3.4"/><circle cx="1010" cy="411.7" r="3.4"/>
<circle cx="1018.3" cy="435" r="3.4"/><circle cx="1022.7" cy="432.3" r="3.4"/><circle cx="1029" cy="428.3" r="3.4"/>
<circle cx="1021" cy="452.7" r="3.4"/><circle cx="1026.7" cy="452.7" r="3.4"/><circle cx="1033.3" cy="454" r="3.4"/>
<circle cx="1014" cy="467.3" r="3.4"/><circle cx="1015.7" cy="471.7" r="3.4"/><circle cx="1019.3" cy="477.7" r="3.4"/>
<circle cx="996.7" cy="474" r="3.4"/><circle cx="995" cy="479" r="3.4"/><circle cx="995" cy="486" r="3.4"/>
<circle cx="979" cy="468.3" r="3.4"/><circle cx="975.7" cy="471.7" r="3.4"/><circle cx="971" cy="477.3" r="3.4"/>
<circle cx="970" cy="452.7" r="3.4"/><circle cx="964.3" cy="452.7" r="3.4"/><circle cx="957.3" cy="454" r="3.4"/>
<circle cx="972.7" cy="433.3" r="3.4"/><circle cx="967.3" cy="432.3" r="3.4"/><circle cx="961.7" cy="429.3" r="3.4"/>
</g>
<g id="tree"><circle cx="989.3" cy="531.7" r="3.4"/><circle cx="1001" cy="531.7" r="3.4"/><circle cx="995.7" cy="541.7" r="3.4"/><circle cx="981.7" cy="526.7" r="3.4"/><circle cx="987.3" cy="522.3" r="3.4"/><circle cx="980.7" cy="534" r="3.4"/><circle cx="1004" cy="522.3" r="3.4"/><circle cx="1010" cy="526.7" r="3.4"/><circle cx="1010" cy="534" r="3.4"/><circle cx="989.3" cy="547.7" r="3.4"/><circle cx="995" cy="551" r="3.4"/><circle cx="1001.7" cy="547.7" r="3.4"/></g>
<g id="p1"><circle cx="988.3" cy="592.7" r="3.4"/></g>
<g id="p2"><circle cx="998.3" cy="592.7" r="3.4"/></g>
<g id="iso1"><circle cx="1087" cy="161" r="3.4"/></g>
<g id="iso2"><circle cx="1087" cy="320.7" r="3.4"/></g>
<g id="iso3"><circle cx="1087" cy="480" r="3.4"/></g>
</g>
</svg>
